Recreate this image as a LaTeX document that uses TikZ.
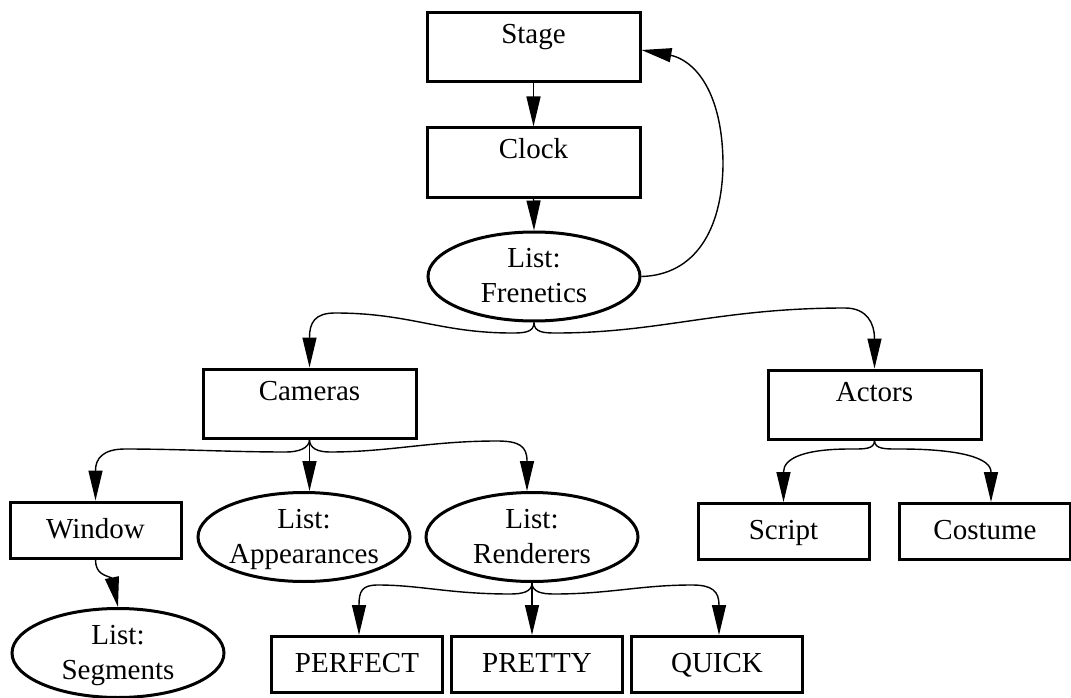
\documentclass[tikz,border=0pt]{standalone}
\usepackage{fontspec}
\setmainfont{Liberation Serif}
\usetikzlibrary{arrows.meta,shapes.geometric,calc}
% two centred lines inside an ellipse, without enlarging the shape
\newcommand\twolines[2]{\makebox[0pt]{\raisebox{-8pt}[0pt][0pt]{\begin{tabular}{@{}c@{}}#1\\#2\end{tabular}}}}
\begin{document}
\begin{tikzpicture}[x=1pt,y=-1pt,
  every node/.style={font=\fontsize{29}{35}\selectfont},
  bigbox/.style={draw, line width=3pt, minimum width=213pt, inner sep=0pt,
    text height=31pt, text depth=38pt, anchor=base},
  smallbox/.style={draw, line width=3pt, minimum width=171pt, minimum height=56pt,
    inner sep=0pt, text height=21.5pt, text depth=5.5pt},
  listnode/.style={draw, ellipse, line width=3pt, minimum width=212pt,
    minimum height=89pt, inner sep=0pt},
  edge/.style={line width=1.4pt, -{Triangle[length=30pt,width=14pt]}}]

\path[use as bounding box, fill=white] (0,0) rectangle (1071,698);

% nodes
\node[bigbox] (stage) at (533.5,44) {Stage};
\node[bigbox] (clock) at (533.5,159) {Clock};
\node[listnode] (fren) at (534,276.5) {\twolines{List:}{Frenetics}};
\node[bigbox] (cam) at (309.5,400) {Cameras};
\node[bigbox] (act) at (874.5,401) {Actors};
\node[smallbox] (win) at (95.5,530) {Window};
\node[listnode] (app) at (304,537) {\twolines{List:}{Appearances}};
\node[listnode] (ren) at (532,537) {\twolines{List:}{Renderers}};
\node[smallbox] (script) at (783.5,531.5) {Script};
\node[smallbox] (cost) at (985,531.5) {Costume};
\node[listnode] (seg) at (118,653) {\twolines{List:}{Segments}};
\node[smallbox] (perf) at (357,664.5) {PERFECT};
\node[smallbox] (pret) at (537,664.5) {PRETTY};
\node[smallbox] (quick) at (717,664.5) {QUICK};

% connectors
\draw[edge] (stage.south) -- (clock.north);
\draw[edge] (clock.south) -- (fren.north);
\draw[edge] (fren.east) .. controls (695,275) and (722,230) .. (723,165)
  .. controls (723,100) and (700,62) .. (670,55) -- ($(stage.east)+(0,2.5)$);

\draw[edge] (fren.south) .. controls +(0,10) and +(12,0) .. (512,333)
  .. controls (440,333) and (410,313) .. (335,313)
  .. controls +(-20,0) and +(0,-15) .. ($(cam.north)+(0,-30)$) -- (cam.north);
\draw[edge] (fren.south) .. controls +(0,10) and +(-12,0) .. (556,333)
  .. controls (660,333) and (720,308) .. (845,308)
  .. controls +(22,0) and +(0,-15) .. ($(act.north)+(0,-30)$) -- (act.north);

\draw[edge] (cam.south) .. controls +(0,9) and +(12,0) .. (286,452)
  .. controls (230,452) and (180,449) .. (125,449)
  .. controls +(-22,0) and +(0,-12) .. ($(win.north)+(0,-30)$) -- (win.north);
\draw[edge] (cam.south) -- (cam.south |- app.north);
\draw[edge] (cam.south) .. controls +(0,9) and +(-12,0) .. (330,452)
  .. controls (390,452) and (430,441) .. (497,441)
  .. controls +(22,0) and +(0,-15) .. ($(ren.north)+(-5,-30)$) -- ($(ren.north)+(-5,0)$);

\draw[edge] (win.south) .. controls +(0,14) and +(-8,-3) .. (112,578) -- (seg.north);

\draw[edge] (ren.south) .. controls +(0,9) and +(12,0) .. (510,594)
  .. controls (450,594) and (420,585) .. (378,585)
  .. controls +(-16,0) and +(0,-14) .. ($(perf.north)+(2,-30)$) -- ($(perf.north)+(2,0)$);
\draw[edge] (ren.south) -- (ren.south |- pret.north);
\draw[edge] (ren.south) .. controls +(0,9) and +(-12,0) .. (554,594)
  .. controls (610,594) and (640,585) .. (692,585)
  .. controls +(20,0) and +(0,-14) .. ($(quick.north)+(2,-30)$) -- ($(quick.north)+(2,0)$);

\draw[edge] (act.south) .. controls +(0,9) and +(14,0) .. (850,449)
  .. controls +(-45,0) and +(0,-14) .. ($(script.north)+(0,-30)$) -- (script.north);
\draw[edge] (act.south) .. controls +(0,9) and +(-14,0) .. (900,449)
  .. controls +(60,0) and +(0,-14) .. ($(cost.north)+(6,-30)$) -- ($(cost.north)+(6,0)$);

\end{tikzpicture}
\end{document}
